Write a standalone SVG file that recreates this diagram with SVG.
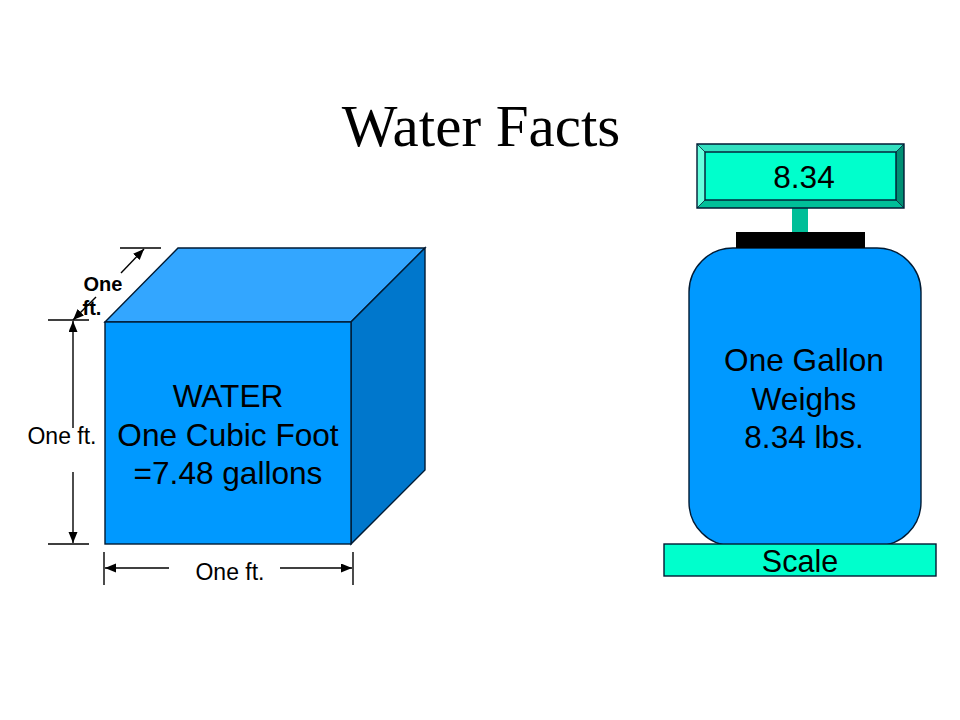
<svg xmlns="http://www.w3.org/2000/svg" width="960" height="720" viewBox="0 0 960 720">
<style>
text{font-family:"Liberation Sans",Arial,sans-serif;fill:#000;text-anchor:middle}
.s{stroke:#001a33;stroke-width:1.4;stroke-linejoin:miter}
.l{stroke:#000;stroke-width:1.4;fill:none}
.a{stroke:#000;stroke-width:1.4;fill:none;marker-end:url(#ah)}
.big{font-size:31.6px}
.dim{font-size:23px}
.bold{font-size:20px;font-weight:bold}
</style>
<defs>
<marker id="ah" markerUnits="userSpaceOnUse" markerWidth="13" markerHeight="10" refX="11" refY="4.5" orient="auto"><path d="M0 0L11 4.5L0 9Z" fill="#000"/></marker>
</defs>
<rect width="960" height="720" fill="#fff"/>
<text id="title" x="481" y="146" style="font-family:'Liberation Serif',serif;font-size:59px">Water Facts</text>
<g id="cube">
<path class="s" d="M105 322L178 248H425L351 322Z" fill="#33a6ff"/>
<path class="s" d="M351 322L425 248V470L351 544Z" fill="#0077cc"/>
<rect class="s" x="105" y="322" width="246" height="222" fill="#0099ff"/>
<text class="big" x="228" y="407">WATER</text>
<text class="big" x="228" y="446">One Cubic Foot</text>
<text class="big" x="228" y="484">=7.48 gallons</text>
</g>
<g id="connectors">
<path class="l" d="M48 320H89M48 544H89M120 248H161M104 552V585M353 552V585"/>
<path class="a" d="M73 428V321"/>
<path class="a" d="M73 472V543"/>
<path class="a" d="M169 568H105"/>
<path class="a" d="M280 568H352"/>
<path class="a" d="M121 273L144 249"/>
<path class="a" d="M96 297L73 320"/>
</g>
<g id="label-depth"><text class="bold" x="103" y="291">One</text><text class="bold" x="92" y="315">ft.</text></g>
<g id="label-height"><text class="dim" x="62" y="444">One ft.</text></g>
<g id="label-width"><text class="dim" x="230" y="580">One ft.</text></g>
<g id="gallon">
<rect class="s" x="689" y="248" width="232" height="298" rx="44" ry="44" fill="#0099ff"/>
<text class="big" x="804" y="371">One Gallon</text>
<text class="big" x="804" y="410">Weighs</text>
<text class="big" x="804" y="448">8.34 lbs.</text>
</g>
<g id="stand">
<rect x="792" y="208" width="16" height="24" fill="#00bf99"/>
<rect x="736" y="232" width="129" height="16" fill="#000"/>
</g>
<g id="display">
<path d="M697 144H904L896 152H705Z" fill="#33e0c0"/>
<path d="M697 144L705 152V200L697 208Z" fill="#66ffdd"/>
<path d="M904 144V208L896 200V152Z" fill="#008f73"/>
<path d="M697 208L705 200H896L904 208Z" fill="#00bf99"/>
<rect class="s" x="705" y="152" width="191" height="48" fill="#00ffcc"/>
<path class="s" d="M697 144H904V208H697Z" fill="none"/>
<path d="M697 144L705 152M904 144L896 152M697 208L705 200M904 208L896 200" stroke="#001a33" stroke-width=".8"/>
<text class="big" x="804" y="188">8.34</text>
</g>
<g id="scale">
<rect class="s" x="664" y="544" width="272" height="32" fill="#00ffcc"/>
<text style="font-size:30.5px" x="800" y="572">Scale</text>
</g>
</svg>
